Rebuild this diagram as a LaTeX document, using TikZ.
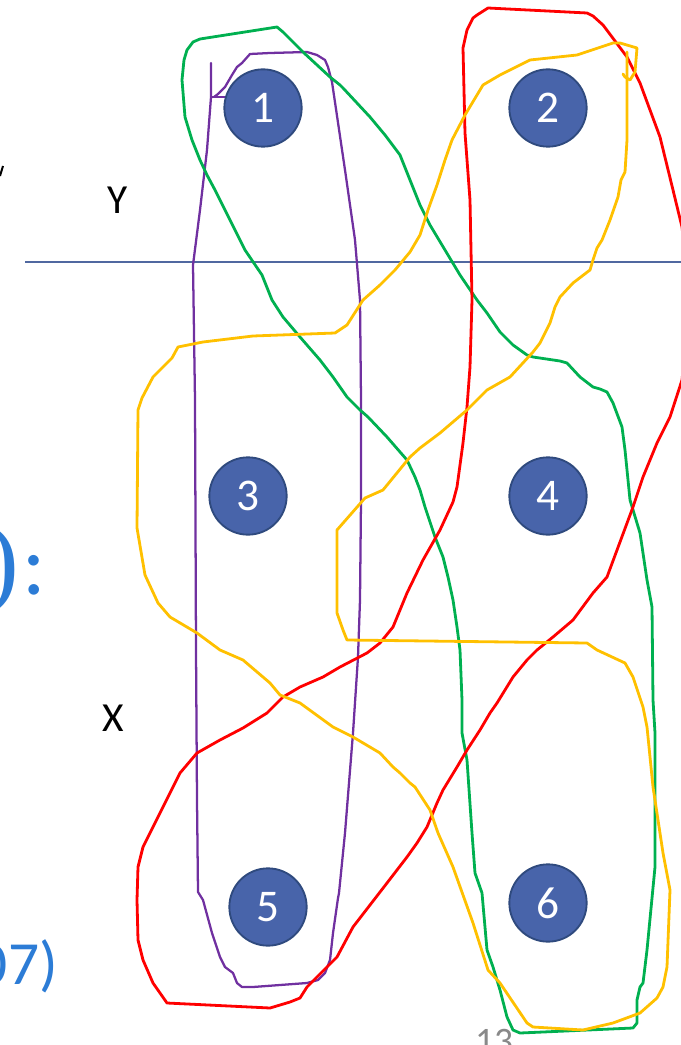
\documentclass[tikz,border=0pt]{standalone}
\usepackage{fontspec}
\setmainfont{Carlito}
\newfontfamily\parenfont{Liberation Serif}
\definecolor{cred}{RGB}{255,0,0}
\definecolor{cgreen}{RGB}{0,176,80}
\definecolor{cyellow}{RGB}{255,192,0}
\definecolor{cpurple}{RGB}{112,48,160}
\definecolor{cfill}{RGB}{72,100,170}
\definecolor{cborder}{RGB}{47,74,126}
\definecolor{cline}{RGB}{80,104,160}
\definecolor{cblue}{RGB}{44,124,214}
\definecolor{cgrey}{RGB}{137,137,137}
\tikzset{
  pen/.style={line width=2.1pt, line join=round, line cap=round},
  thinpen/.style={line width=1.7pt, line join=round, line cap=round},
  ball/.style={circle, fill=cfill, draw=cborder, line width=1.4pt, minimum size=58pt, inner sep=0pt, text=white, font=\fontsize{34}{34}\selectfont},
  lbl/.style={inner sep=0pt, font=\fontsize{31}{31}\selectfont}
}
\begin{document}
\begin{tikzpicture}[x=0.75pt,y=-0.75pt]
\useasboundingbox (0,0) rectangle (681,1045);
\clip (0,0) rectangle (681,1045);
% axis line
\draw[cline, line width=1pt] (25,262) -- (681,262);
% text fragments
\draw[black, line width=1.5pt] (0,176) -- (3,166);
\node[lbl, anchor=center] (ylab) at (118,200) {Y};
\node[lbl, anchor=center] (xlab) at (113,718) {X};
\node[inner sep=0pt, anchor=base east, text=cblue, font=\fontsize{66}{66}\selectfont] (paren) at (46,594) {{\parenfont\fontsize{76}{76}\selectfont )}\kern2pt:};
\node[inner sep=0pt, anchor=base east, text=cblue, font=\fontsize{46}{46}\selectfont] (seven) at (58,984) {07)};
\node[inner sep=0pt, anchor=base, text=cgrey, font=\fontsize{28}{28}\selectfont] (page) at (494,1053) {13};
% purple
\draw[cpurple, thinpen] (211,63) -- (211,97) -- (207,150) -- (200,210) -- (193,265) -- (195,400) -- (196,650) -- (197,800) -- (198,892) -- (203,900) -- (212,933) -- (220,957) -- (225,967) -- (233,973) -- (237,983) -- (242,987) -- (253,987) -- (307,983) -- (318,980) -- (325,973) -- (330,960) -- (333,933) -- (338,898) -- (339,893) -- (345,833) -- (353,733) -- (358,657) -- (360,600) -- (361,500) -- (361,400) -- (360,300) -- (355,240) -- (345,170) -- (332,82) -- (328,67) -- (325,60) -- (317,55) -- (307,52) -- (270,53) -- (250,54) -- (242,63) -- (237,67) -- (232,75) -- (225,87) -- (218,94) -- (214,97);
\draw[cpurple, thinpen] (211,97) -- (227,97);
% green
\draw[cgreen, pen] (277,27) -- (200,39) -- (193,42) -- (187,50) -- (184,60) -- (182,80) -- (185,117) -- (192,140) -- (200,160) -- (207,175) -- (215,190) -- (230,220) -- (245,250) -- (262,275) -- (272,300) -- (283,317) -- (300,337) -- (320,360) -- (333,377) -- (347,397) -- (360,410) -- (368,417) -- (387,437) -- (407,460) -- (415,477) -- (420,490) -- (425,507) -- (435,537) -- (443,557) -- (448,577) -- (453,600) -- (457,627) -- (460,650) -- (462,700) -- (462,733) -- (467,760) -- (472,833) -- (475,873) -- (482,893) -- (487,950) -- (493,967) -- (500,990) -- (507,1017) -- (513,1030) -- (520,1033) -- (543,1032) -- (633,1028) -- (637,1023) -- (637,1000) -- (640,987) -- (643,983) -- (647,950) -- (655,867) -- (655,733) -- (653,700) -- (652,607) -- (647,580) -- (640,533) -- (630,500) -- (625,450) -- (622,427) -- (613,403) -- (607,392) -- (600,389) -- (593,387) -- (580,377) -- (567,363) -- (560,361) -- (533,357) -- (527,355) -- (513,345) -- (503,335) -- (500,332) -- (487,313) -- (477,300) -- (460,275) -- (445,250) -- (430,225) -- (420,205) -- (410,180) -- (400,155) -- (385,135) -- (370,117) -- (343,88) -- (340,85) -- (330,77) -- (303,52) -- (283,32) -- cycle;
% red
\draw[cred, pen] (488,8) -- (587,13) -- (593,16) -- (603,25) -- (627,57) -- (640,83) -- (660,137) -- (673,190) -- (682,227) -- (690,300) -- (682,380) -- (670,417) -- (657,443) -- (643,477) -- (633,507) -- (607,577) -- (593,593) -- (573,620) -- (553,637) -- (537,650) -- (527,660) -- (513,677) -- (497,703) -- (490,713) -- (480,730) -- (467,750) -- (457,767) -- (443,790) -- (437,803) -- (427,827) -- (417,843) -- (407,857) -- (387,883) -- (353,927) -- (337,957) -- (327,967) -- (307,987) -- (300,998) -- (290,1002) -- (270,1008) -- (167,1003) -- (153,983) -- (143,960) -- (138,940) -- (137,900) -- (138,867) -- (143,847) -- (153,827) -- (180,773) -- (197,753) -- (220,740) -- (243,728) -- (267,713) -- (283,697) -- (300,687) -- (323,677) -- (340,667) -- (367,653) -- (380,643) -- (393,627) -- (400,610) -- (407,593) -- (423,560) -- (440,530) -- (453,502) -- (457,487) -- (463,443) -- (467,407) -- (470,367) -- (472,300) -- (470,200) -- (465,133) -- (463,48) -- (467,30) -- (473,18) -- (477,15) -- cycle;
% yellow
\draw[cyellow, pen] (452,140) -- (465,115) -- (483,85) -- (500,75) -- (530,60) -- (577,55) -- (613,43) -- (620,43) -- (637,48) -- (635,72) -- (630,80) -- (625,77) -- (623,74);
\draw[cyellow, pen] (627,52) -- (627,140) -- (625,172) -- (621,180) -- (618,197) -- (610,220) -- (602,240) -- (597,248) -- (593,260) -- (590,270) -- (573,283) -- (560,297) -- (555,307) -- (550,323) -- (540,343) -- (533,352) -- (510,377) -- (487,390) -- (480,397) -- (467,410) -- (440,433) -- (420,448) -- (410,457) -- (383,490) -- (365,498) -- (337,530) -- (337,613) -- (343,630) -- (347,640) -- (587,643) -- (597,650) -- (625,663) -- (633,677) -- (643,707) -- (647,727) -- (653,787) -- (663,853) -- (670,890) -- (667,967) -- (663,987) -- (657,998) -- (640,1013) -- (613,1023) -- (583,1030) -- (533,1027) -- (527,1023) -- (500,983) -- (488,970) -- (473,923) -- (453,867) -- (438,833) -- (430,810) -- (415,787) -- (410,783) -- (400,773) -- (393,767) -- (380,753) -- (353,737) -- (333,727) -- (300,703) -- (280,695) -- (270,683) -- (243,660) -- (220,650) -- (197,633) -- (170,617) -- (158,603) -- (145,575) -- (137,528) -- (138,410) -- (142,398) -- (153,377) -- (172,358) -- (178,347) -- (203,342) -- (253,336) -- (335,333) -- (347,325) -- (363,300) -- (380,285) -- (395,270) -- (410,252) -- (420,235) -- (428,210) -- (437,185) -- (445,160) -- (452,140);
% balls
\node[ball] (n1) at (263,108) {1};
\node[ball] (n2) at (548,108) {2};
\node[ball] (n3) at (248,496) {3};
\node[ball] (n4) at (548,496) {4};
\node[ball] (n5) at (268,907) {5};
\node[ball] (n6) at (548,903) {6};
\end{tikzpicture}
\end{document}
